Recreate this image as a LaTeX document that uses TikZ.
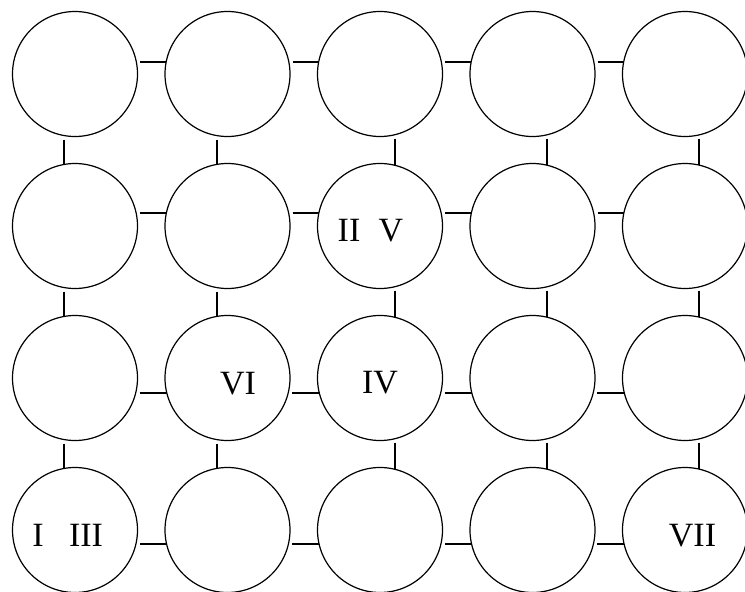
\documentclass[tikz,border=0pt]{standalone}
\usepackage{fontspec}
\setmainfont{Liberation Serif}
\begin{document}
\begin{tikzpicture}[x=1pt,y=-1pt,
  ring/.style={circle, draw=black, minimum size=125pt, inner sep=0pt, line width=1.2pt},
  link/.style={draw=black, line width=1.2pt},
  lbl/.style={anchor=base, inner sep=0pt, font=\fontsize{34}{34}\selectfont}]
\fill[white] (0,0) rectangle (745,592);
\useasboundingbox (0,0) rectangle (745,592);
\foreach \i/\x in {1/75,2/227.5,3/380,4/532.5,5/685}
  \foreach \j/\y in {1/74,2/226,3/378,4/530}
    \node[ring] (c\i\j) at (\x,\y) {};
% horizontal connectors: row / vertical offset / half chord
\foreach \j/\d/\h/\s in {1/-12/61.34/65.34, 2/-13/61.13/65.13, 3/15/60.67/64.67, 4/14/60.91/64.91}
  \foreach \i/\k in {1/2,2/3,3/4,4/5}
    \draw[link] ([shift={(\s,\d)}]c\i\j.center) -- ([shift={(-\h,\d)}]c\k\j.center);
% vertical connectors: column / horizontal offset / half chord
\foreach \i/\d/\h/\s in {1/-11/61.52/65.52, 2/-10.5/61.61/65.61, 3/15/60.67/64.67, 4/14.5/60.79/64.79, 5/14/60.91/64.91}
  \foreach \j/\k in {1/2,2/3,3/4}
    \draw[link] ([shift={(\d,\s)}]c\i\j.center) -- ([shift={(\d,-\h)}]c\i\k.center);
% labels
\node[lbl] (tII) at (349,241) {II};
\node[lbl] (tV) at (391,241) {V};
\node[lbl] (tVI) at (238,394) {VI};
\node[lbl] (tIV) at (380,393) {IV};
\node[lbl] (tI) at (38,546) {I};
\node[lbl] (tIII) at (86,546) {III};
\node[lbl] (tVII) at (692.5,546) {VII};
\end{tikzpicture}
\end{document}
